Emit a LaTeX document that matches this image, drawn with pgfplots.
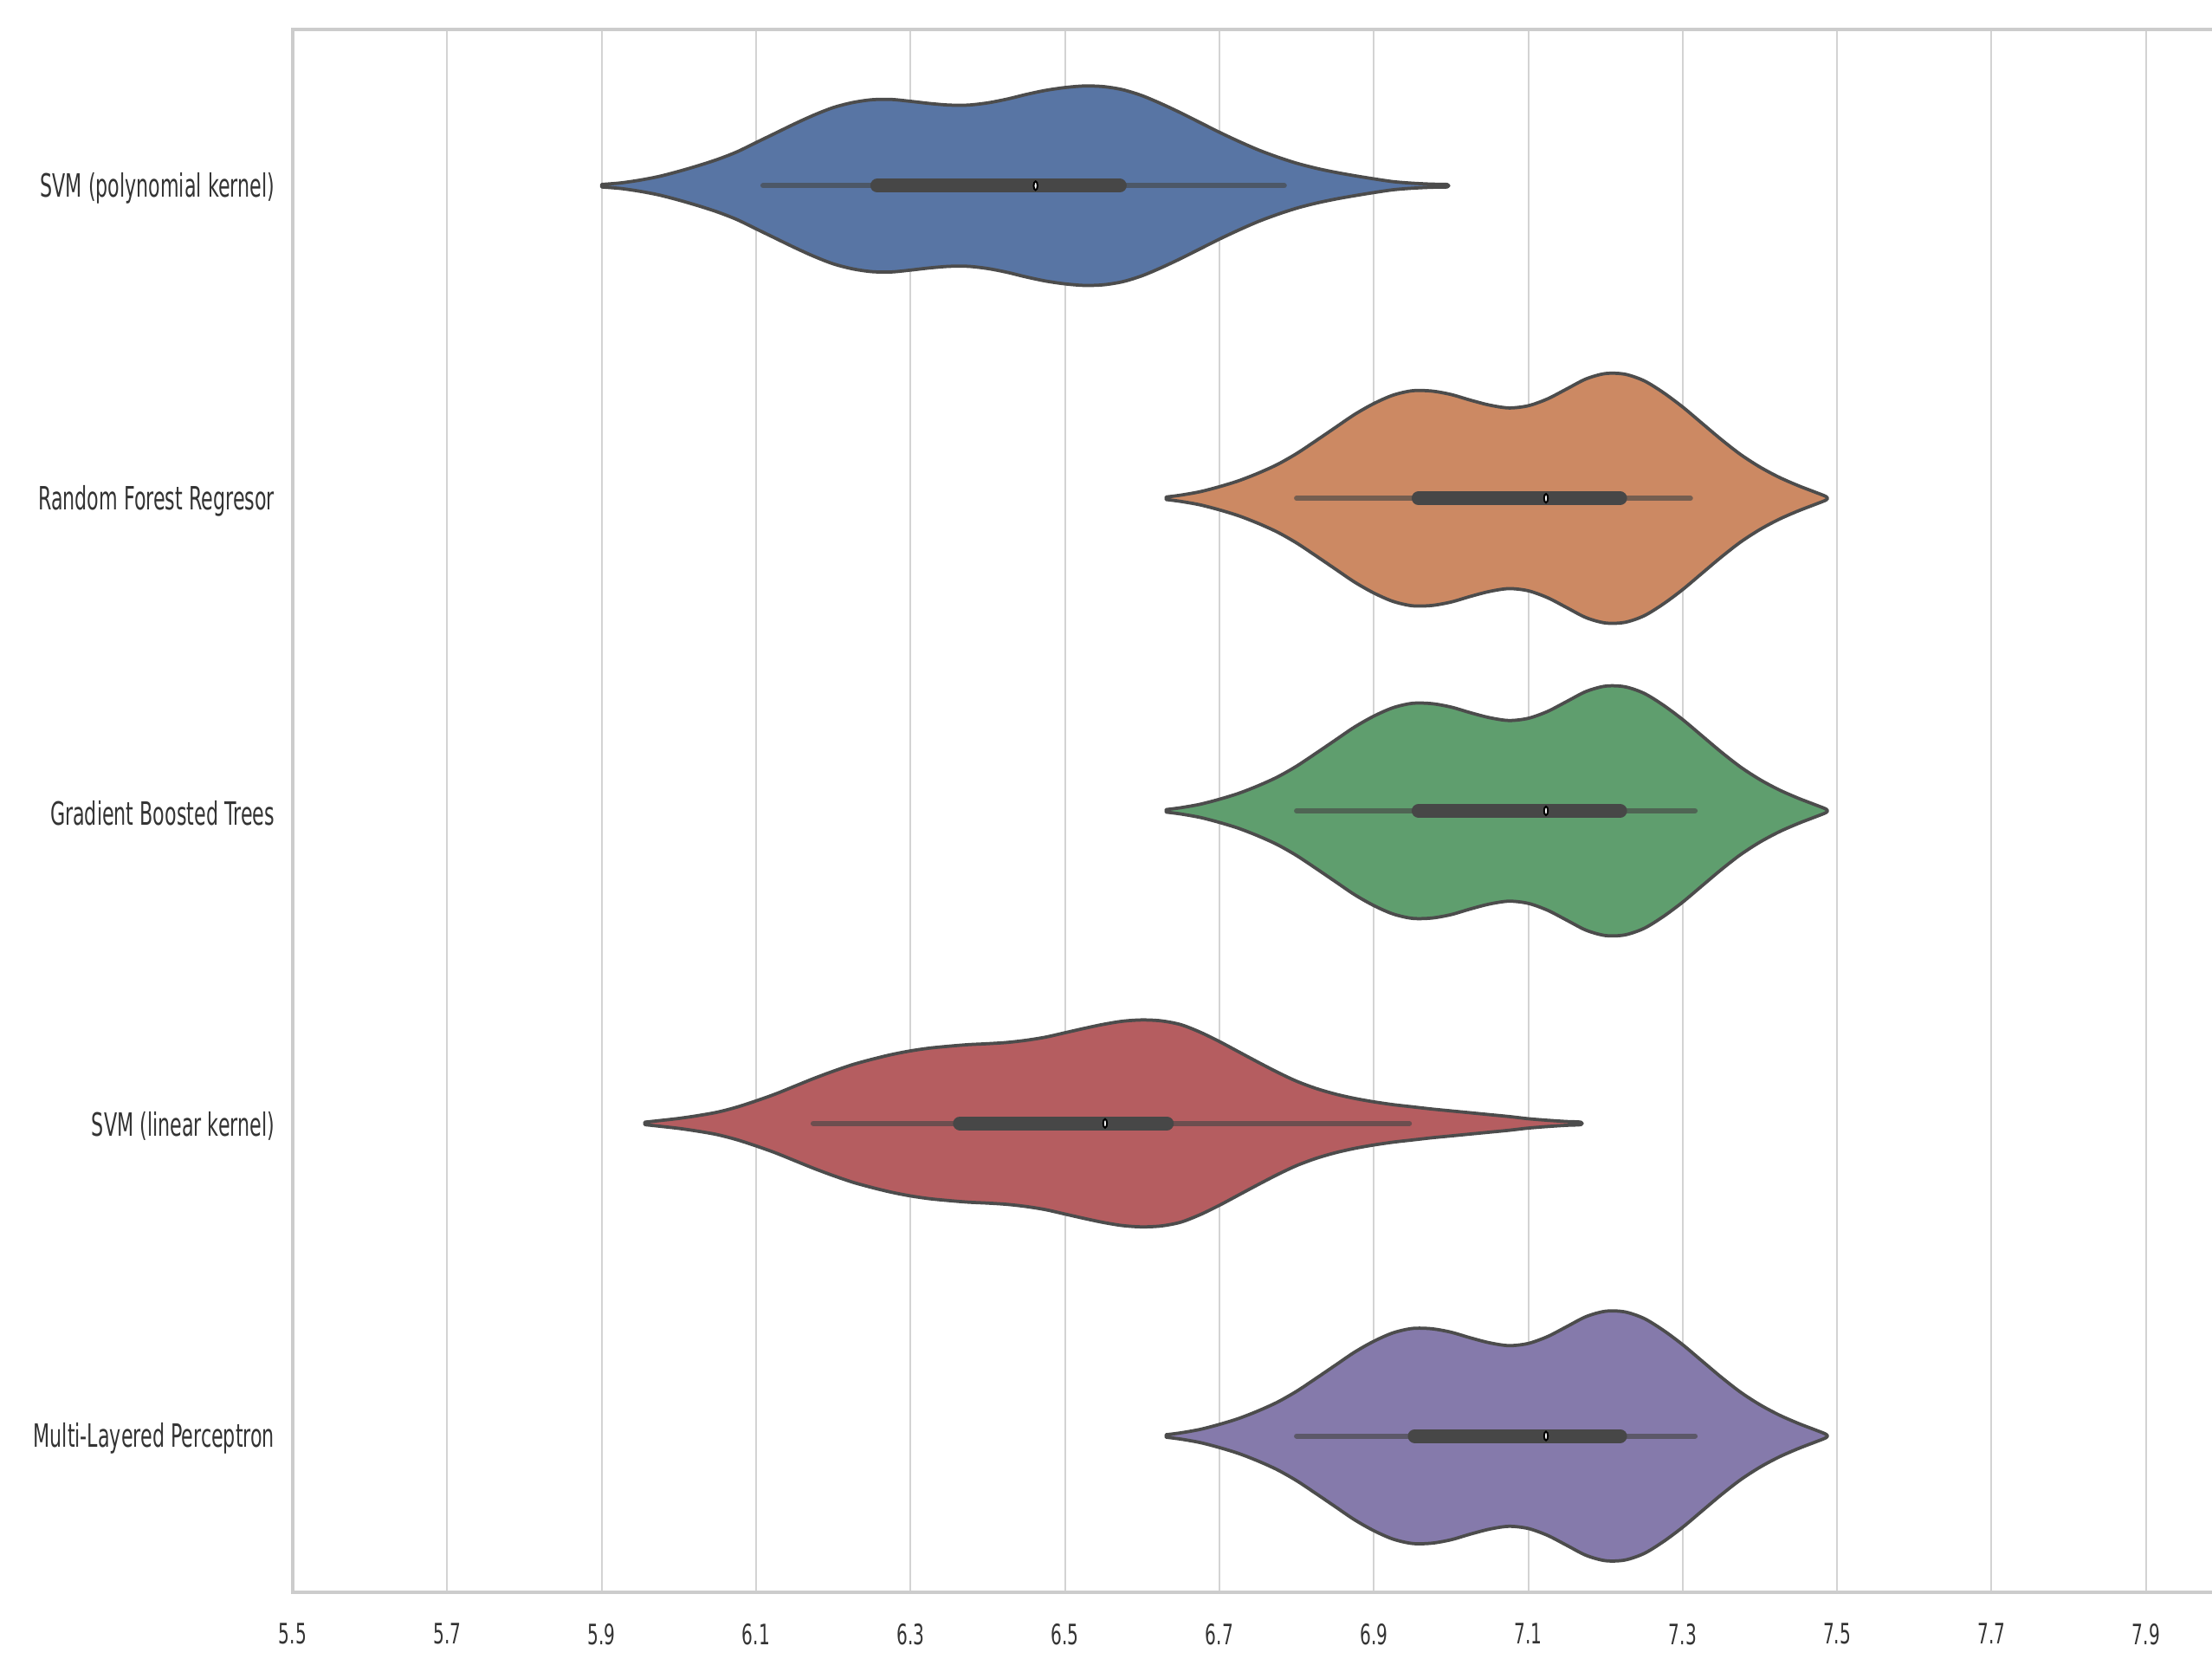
\documentclass[border=0pt]{standalone}
\usepackage{pgfplots}
\pgfplotsset{compat=1.18}
\usepackage{pgfplotstable}
\usepackage{fontspec}
\setmainfont{DejaVu Sans}
\newfontfamily\ylabfont{DejaVu Sans}[FakeStretch=0.6]
\newfontfamily\tickfont{DejaVu Sans}[FakeStretch=0.62]
\usetikzlibrary{calc}

\definecolor{cblue}{HTML}{5875A4}
\definecolor{corange}{HTML}{CC8963}
\definecolor{cgreen}{HTML}{5F9E6E}
\definecolor{cred}{HTML}{B55D60}
\definecolor{cpurple}{HTML}{857AAB}
\definecolor{edge}{HTML}{4C4C4C}
\definecolor{boxc}{HTML}{474747}
\definecolor{spine}{HTML}{CCCCCC}
\definecolor{gridc}{HTML}{D3D3D3}
\definecolor{txt}{HTML}{333333}

% SVM (polynomial kernel): closed outline, x = score, w = signed half width
\pgfplotstableread{
x w
5.900 0.004
5.925 0.009
5.950 0.018
5.975 0.030
6.000 0.046
6.025 0.064
6.050 0.084
6.075 0.108
6.100 0.138
6.125 0.168
6.150 0.198
6.175 0.226
6.200 0.250
6.225 0.266
6.250 0.275
6.275 0.276
6.300 0.270
6.325 0.263
6.350 0.258
6.375 0.258
6.400 0.265
6.425 0.277
6.450 0.292
6.475 0.305
6.500 0.314
6.525 0.319
6.550 0.317
6.575 0.307
6.600 0.288
6.625 0.262
6.650 0.233
6.675 0.202
6.700 0.171
6.725 0.142
6.750 0.115
6.775 0.092
6.800 0.072
6.825 0.056
6.850 0.043
6.875 0.032
6.900 0.022
6.925 0.013
6.950 0.008
6.975 0.005
6.995 0.004
6.995 -0.004
6.975 -0.005
6.950 -0.008
6.925 -0.013
6.900 -0.022
6.875 -0.032
6.850 -0.043
6.825 -0.056
6.800 -0.072
6.775 -0.092
6.750 -0.115
6.725 -0.142
6.700 -0.171
6.675 -0.202
6.650 -0.233
6.625 -0.262
6.600 -0.288
6.575 -0.307
6.550 -0.317
6.525 -0.319
6.500 -0.314
6.475 -0.305
6.450 -0.292
6.425 -0.277
6.400 -0.265
6.375 -0.258
6.350 -0.258
6.325 -0.263
6.300 -0.270
6.275 -0.276
6.250 -0.275
6.225 -0.266
6.200 -0.250
6.175 -0.226
6.150 -0.198
6.125 -0.168
6.100 -0.138
6.075 -0.108
6.050 -0.084
6.025 -0.064
6.000 -0.046
5.975 -0.030
5.950 -0.018
5.925 -0.009
5.900 -0.004
}\tblue

% Random Forest / Gradient Boosted Trees / MLP (same distribution)
\pgfplotstableread{
x w
6.631 0.004
6.650 0.010
6.675 0.021
6.700 0.037
6.725 0.056
6.750 0.080
6.775 0.108
6.800 0.143
6.825 0.184
6.850 0.226
6.875 0.268
6.900 0.303
6.925 0.330
6.950 0.344
6.975 0.343
7.000 0.332
7.025 0.314
7.050 0.298
7.075 0.289
7.100 0.296
7.125 0.318
7.150 0.350
7.175 0.382
7.200 0.399
7.225 0.397
7.250 0.376
7.275 0.338
7.300 0.292
7.325 0.240
7.350 0.188
7.375 0.140
7.400 0.100
7.425 0.067
7.450 0.040
7.470 0.021
7.486 0.005
7.486 -0.005
7.470 -0.021
7.450 -0.040
7.425 -0.067
7.400 -0.100
7.375 -0.140
7.350 -0.188
7.325 -0.240
7.300 -0.292
7.275 -0.338
7.250 -0.376
7.225 -0.397
7.200 -0.399
7.175 -0.382
7.150 -0.350
7.125 -0.318
7.100 -0.296
7.075 -0.289
7.050 -0.298
7.025 -0.314
7.000 -0.332
6.975 -0.343
6.950 -0.344
6.925 -0.330
6.900 -0.303
6.875 -0.268
6.850 -0.226
6.825 -0.184
6.800 -0.143
6.775 -0.108
6.750 -0.080
6.725 -0.056
6.700 -0.037
6.675 -0.021
6.650 -0.010
6.631 -0.004
}\ttree

% SVM (linear kernel)
\pgfplotstableread{
x w
5.956 0.004
5.975 0.009
6.000 0.016
6.025 0.025
6.050 0.036
6.075 0.052
6.100 0.072
6.125 0.094
6.150 0.119
6.175 0.144
6.200 0.167
6.225 0.188
6.250 0.205
6.275 0.220
6.300 0.232
6.325 0.241
6.350 0.247
6.375 0.252
6.400 0.255
6.425 0.259
6.450 0.266
6.475 0.276
6.500 0.290
6.525 0.304
6.550 0.317
6.575 0.327
6.600 0.331
6.625 0.328
6.650 0.316
6.675 0.292
6.700 0.262
6.725 0.229
6.750 0.196
6.775 0.164
6.800 0.135
6.825 0.112
6.850 0.094
6.875 0.080
6.900 0.069
6.925 0.060
6.950 0.053
6.975 0.046
7.000 0.040
7.025 0.034
7.050 0.028
7.075 0.022
7.100 0.015
7.125 0.010
7.150 0.006
7.168 0.004
7.168 -0.004
7.150 -0.006
7.125 -0.010
7.100 -0.015
7.075 -0.022
7.050 -0.028
7.025 -0.034
7.000 -0.040
6.975 -0.046
6.950 -0.053
6.925 -0.060
6.900 -0.069
6.875 -0.080
6.850 -0.094
6.825 -0.112
6.800 -0.135
6.775 -0.164
6.750 -0.196
6.725 -0.229
6.700 -0.262
6.675 -0.292
6.650 -0.316
6.625 -0.328
6.600 -0.331
6.575 -0.327
6.550 -0.317
6.525 -0.304
6.500 -0.290
6.475 -0.276
6.450 -0.266
6.425 -0.259
6.400 -0.255
6.375 -0.252
6.350 -0.247
6.325 -0.241
6.300 -0.232
6.275 -0.220
6.250 -0.205
6.225 -0.188
6.200 -0.167
6.175 -0.144
6.150 -0.119
6.125 -0.094
6.100 -0.072
6.075 -0.052
6.050 -0.036
6.025 -0.025
6.000 -0.016
5.975 -0.009
5.956 -0.004
}\tred

\pgfplotsset{
  violin/.style={draw=edge, line width=0.75pt, smooth, line join=round},
  whisk/.style={boxc, opacity=0.65, line width=1.2pt, line cap=round},
  boxbar/.style={boxc, line width=3.2pt, line cap=round},
  med/.style={only marks, mark=*, mark size=1.0pt, mark options={fill=white, draw=none, xscale=0.45}},
}

\begin{document}
\begin{tikzpicture}
\begin{axis}[name=ax, scale only axis, width=443.2pt, height=360.8pt,
  xmin=5.5, xmax=7.9855, ymin=-0.5, ymax=4.5, clip=false,
  xtick={5.5,5.7,5.9,6.1,6.3,6.5,6.7,6.9,7.1,7.3,7.5,7.7,7.9},
  xticklabels={5.5,5.7,5.9,6.1,6.3,6.5,6.7,6.9,7.1,7.3,7.5,7.7,7.9},
  ytick={0,1,2,3,4},
  yticklabels={Multi-Layered Perceptron, SVM (linear kernel), Gradient Boosted Trees, Random Forest Regresor, SVM (polynomial kernel)},
  xmajorgrids, major grid style={gridc, line width=0.4pt},
  axis line style={draw=none},
  major tick length=0pt, tick style={draw=none},
  xticklabel style={font=\tickfont\fontsize{6.5}{7}\selectfont, text=txt, anchor=north, inner sep=0pt, yshift=-7pt},
  yticklabel style={font=\ylabfont\fontsize{7.4}{8}\selectfont, text=txt, anchor=east, inner sep=0pt, xshift=-4pt, yshift=-0.6pt},
]
% SVM (polynomial kernel)
\addplot[violin, fill=cblue] table[x=x, y expr=4+\thisrow{w}] {\tblue} -- cycle;
\addplot[whisk] coordinates {(6.109,4) (6.784,4)};
\addplot[boxbar] coordinates {(6.257,4) (6.571,4)};
\addplot[med] coordinates {(6.462,4)};
% Random Forest Regresor
\addplot[violin, fill=corange] table[x=x, y expr=3+\thisrow{w}] {\ttree} -- cycle;
\addplot[whisk] coordinates {(6.800,3) (7.310,3)};
\addplot[boxbar] coordinates {(6.958,3) (7.219,3)};
\addplot[med] coordinates {(7.123,3)};
% Gradient Boosted Trees
\addplot[violin, fill=cgreen] table[x=x, y expr=2+\thisrow{w}] {\ttree} -- cycle;
\addplot[whisk] coordinates {(6.800,2) (7.316,2)};
\addplot[boxbar] coordinates {(6.958,2) (7.219,2)};
\addplot[med] coordinates {(7.123,2)};
% SVM (linear kernel)
\addplot[violin, fill=cred] table[x=x, y expr=1+\thisrow{w}] {\tred} -- cycle;
\addplot[whisk] coordinates {(6.174,1) (6.946,1)};
\addplot[boxbar] coordinates {(6.364,1) (6.632,1)};
\addplot[med] coordinates {(6.552,1)};
% Multi-Layered Perceptron
\addplot[violin, fill=cpurple] table[x=x, y expr=0+\thisrow{w}] {\ttree} -- cycle;
\addplot[whisk] coordinates {(6.800,0) (7.316,0)};
\addplot[boxbar] coordinates {(6.953,0) (7.219,0)};
\addplot[med] coordinates {(7.123,0)};
% spines
\draw[spine, line width=0.7pt] (rel axis cs:1,1) -- (rel axis cs:0,1) -- (rel axis cs:0,0) -- (rel axis cs:1,0);
\end{axis}
\pgfresetboundingbox
\path[use as bounding box] ($(ax.south west)+(-67.6pt,-15.4pt)$) rectangle ($(ax.north east)+(0pt,6.8pt)$);
\end{tikzpicture}
\end{document}
